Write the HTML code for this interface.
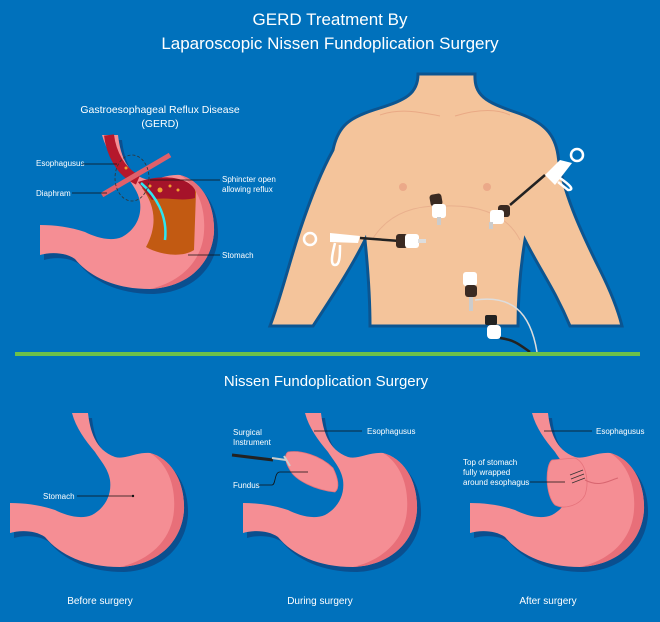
<!DOCTYPE html>
<html><head><meta charset="utf-8"><style>
html,body{margin:0;padding:0;background:#0071bc;}
svg{display:block}
text{font-family:"Liberation Sans",sans-serif;fill:#fff}
</style></head><body>
<svg width="660" height="622" viewBox="0 0 660 622" xmlns="http://www.w3.org/2000/svg">
<rect width="660" height="622" fill="#0071bc"/>
<defs>
<path id="st" d="M10,503 C25,503 40,505 55,510 C65,515 80,520 92,515 C105,508 112,495 110,480 C108,468 100,460 95,452 C85,440 76,428 72,413 L88,413 C90,430 95,450 115,457 C125,460 135,452 150,453 C170,458 185,480 184,510 C182,540 160,565 120,567 C85,567 60,555 45,537 C35,530 20,530 10,533 Z"/>
<path id="sh" d="M150,453 C170,458 185,480 184,510 C182,540 160,565 120,567 C150,560 172,540 174,510 C176,482 165,462 150,453 Z"/>
<g id="stomach">
<use href="#st" fill="#0a4f8f" transform="translate(4,5)"/>
<use href="#st" fill="#f58e94"/>
<use href="#sh" fill="#e86f79"/>
</g>
</defs>

<text x="330" y="25" font-size="17" text-anchor="middle">GERD Treatment By</text>
<text x="330" y="49" font-size="17" text-anchor="middle">Laparoscopic Nissen Fundoplication Surgery</text>

<!-- GERD stomach -->
<text x="160" y="113" font-size="10.5" text-anchor="middle">Gastroesophageal Reflux Disease</text>
<text x="160" y="127" font-size="10.5" text-anchor="middle">(GERD)</text>
<g transform="translate(30,-278)"><use href="#stomach"/></g>
<path d="M109,135 C111,152 120,172 138,180" stroke="#b5182c" stroke-width="10" fill="none"/>
<path d="M142,188 C165,176 190,176 196,192 L194,250 C182,258 160,255 146,247 C158,225 155,205 142,188 Z" fill="#c25a12"/>
<path d="M138,182 C160,174 188,176 195,190 L195,198 C180,202 165,196 152,200 Z" fill="#a5132a"/>
<g fill="#f0a030"><circle cx="160" cy="190" r="2.5"/><circle cx="170" cy="186" r="1.5"/><circle cx="126" cy="168" r="1.5"/><circle cx="150" cy="186" r="1.5"/><circle cx="178" cy="190" r="1.5"/></g>
<path d="M141,183 C155,195 168,215 165,240" stroke="#2ce6f2" stroke-width="2.5" fill="none"/>
<path d="M102,195 L170,155" stroke="#e0606a" stroke-width="5"/>
<ellipse cx="132" cy="178" rx="17" ry="23" fill="none" stroke="#333" stroke-dasharray="3,2" stroke-width="0.8"/>
<text x="36" y="166" font-size="8">Esophagusus</text>
<line x1="82" y1="164" x2="117" y2="164" stroke="#111" stroke-width="0.8"/>
<text x="36" y="196" font-size="8">Diaphram</text>
<line x1="72" y1="193" x2="107" y2="193" stroke="#111" stroke-width="0.8"/>
<line x1="150" y1="180" x2="220" y2="180" stroke="#111" stroke-width="0.8"/>
<text x="222" y="182" font-size="8">Sphincter open</text>
<text x="222" y="192" font-size="8">allowing reflux</text>
<line x1="188" y1="255" x2="220" y2="255" stroke="#111" stroke-width="0.8"/>
<text x="222" y="258" font-size="8">Stomach</text>

<!-- torso -->
<path d="M418,74 L475,74 C474,95 485,102 515,112 C545,122 555,135 558,155 C562,190 580,230 600,270 C610,290 618,310 622,326 L570,326 C555,290 540,270 525,240 C520,270 518,300 518,326 L370,326 C370,300 368,270 365,240 C350,270 330,300 313,326 L270,326 C280,300 290,260 300,230 C310,200 322,170 333,150 C338,125 350,117 380,108 C405,100 418,94 418,74 Z" fill="#f4c49b" stroke="#0b5591" stroke-width="3"/>
<path d="M380,115 C400,108 420,112 440,116 M455,116 C475,110 495,108 510,115" stroke="#e9a985" stroke-width="1" fill="none"/>
<circle cx="403" cy="187" r="4" fill="#eba989"/><circle cx="487" cy="187" r="4" fill="#eba989"/>
<path d="M372,240 C390,210 420,205 445,206 C470,205 505,210 520,240" stroke="#e9b08d" fill="none"/>
<!-- instruments -->
<g stroke="#222" stroke-width="2.5"><line x1="360" y1="238" x2="400" y2="241"/><line x1="510" y1="205" x2="545" y2="175"/></g>
<path d="M330,233 L360,236 L358,243 L330,242 Z" fill="#fff"/>
<circle cx="310" cy="239" r="6" fill="none" stroke="#fff" stroke-width="2.5"/>
<path d="M335,243 C332,255 330,265 335,265 C340,265 340,255 340,245" fill="none" stroke="#fff" stroke-width="2.5"/>
<path d="M545,175 L560,160 L572,163 L555,185 Z" fill="#fff"/>
<circle cx="577" cy="155" r="6" fill="none" stroke="#fff" stroke-width="2.5"/>
<path d="M560,178 C570,185 575,190 568,190 L558,182" fill="none" stroke="#fff" stroke-width="2.5"/>
<g>
<rect x="396" y="234" width="12" height="14" rx="3" fill="#3a2a22"/><rect x="405" y="234" width="14" height="14" rx="3" fill="#fff"/><rect x="418" y="239" width="8" height="4" fill="#ddd"/>
<rect x="430" y="194" width="12" height="12" rx="3" fill="#3a2a22" transform="rotate(-10 436 200)"/><rect x="432" y="204" width="14" height="14" rx="3" fill="#fff"/><rect x="437" y="217" width="4" height="8" fill="#ccc"/>
<rect x="498" y="205" width="12" height="12" rx="3" fill="#3a2a22"/><rect x="490" y="210" width="14" height="14" rx="3" fill="#fff"/><rect x="489" y="222" width="4" height="7" fill="#ccc"/>
<rect x="463" y="272" width="14" height="14" rx="3" fill="#fff"/><rect x="465" y="285" width="12" height="12" rx="3" fill="#3a2a22"/><rect x="469" y="297" width="4" height="14" fill="#ccc"/>
<rect x="485" y="315" width="12" height="10" rx="2" fill="#222"/><rect x="487" y="325" width="14" height="14" rx="4" fill="#fff"/>
</g>
<path d="M475,300 C510,295 530,310 537,352" stroke="#ddd" stroke-width="1.5" fill="none"/>
<path d="M500,338 C515,340 520,345 530,352" stroke="#222" stroke-width="2.5" fill="none"/>

<rect x="15" y="352" width="625" height="4" fill="#6cc04a"/>

<text x="326" y="386" font-size="15" text-anchor="middle">Nissen Fundoplication Surgery</text>

<!-- before -->
<use href="#stomach"/>
<text x="43" y="499" font-size="8">Stomach</text>
<line x1="77" y1="496" x2="133" y2="496" stroke="#111" stroke-width="0.8"/><circle cx="133" cy="496" r="1.2" fill="#111"/>
<text x="100" y="604" font-size="10" text-anchor="middle">Before surgery</text>

<!-- during -->
<g transform="translate(233,0)"><use href="#stomach"/></g>
<path d="M288,452 C300,450 320,455 333,468 C338,478 340,488 335,492 C315,490 295,480 290,470 C285,462 284,455 288,452 Z" fill="#f58e94" stroke="#e6727b" stroke-width="0.8"/>
<line x1="232" y1="455" x2="273" y2="460" stroke="#222" stroke-width="3"/>
<path d="M272,458 L286,460 M284,456 L290,466" stroke="#ccc" stroke-width="2"/>
<text x="233" y="435" font-size="8">Surgical</text>
<text x="233" y="445" font-size="8">Instrument</text>
<text x="233" y="488" font-size="8">Fundus</text>
<path d="M258,485 L272,485 C276,485 274,472 280,472 L308,472" stroke="#111" stroke-width="0.8" fill="none"/>
<line x1="314" y1="431" x2="362" y2="431" stroke="#111" stroke-width="0.8"/>
<text x="367" y="434" font-size="8">Esophagusus</text>
<text x="320" y="604" font-size="10" text-anchor="middle">During surgery</text>

<!-- after -->
<g transform="translate(460,0)"><use href="#stomach"/></g>
<path d="M552,460 C545,465 545,495 555,505 C565,510 580,505 585,495 C590,480 585,462 575,458 Z" fill="#f58e94" stroke="#e6727b" stroke-width="0.8"/>
<g stroke="#333" stroke-width="0.8"><line x1="570" y1="475" x2="583" y2="470"/><line x1="571" y1="479" x2="584" y2="474"/><line x1="572" y1="483" x2="585" y2="478"/></g>
<path d="M585,480 C600,488 610,480 618,478" stroke="#d86670" fill="none"/>
<text x="463" y="465" font-size="8">Top of stomach</text>
<text x="463" y="475" font-size="8">fully wrapped</text>
<text x="463" y="485" font-size="8">around esophagus</text>
<line x1="530" y1="482" x2="565" y2="482" stroke="#111" stroke-width="0.8"/>
<line x1="544" y1="431" x2="592" y2="431" stroke="#111" stroke-width="0.8"/>
<text x="596" y="434" font-size="8">Esophagusus</text>
<text x="548" y="604" font-size="10" text-anchor="middle">After surgery</text>
</svg>
</body></html>
